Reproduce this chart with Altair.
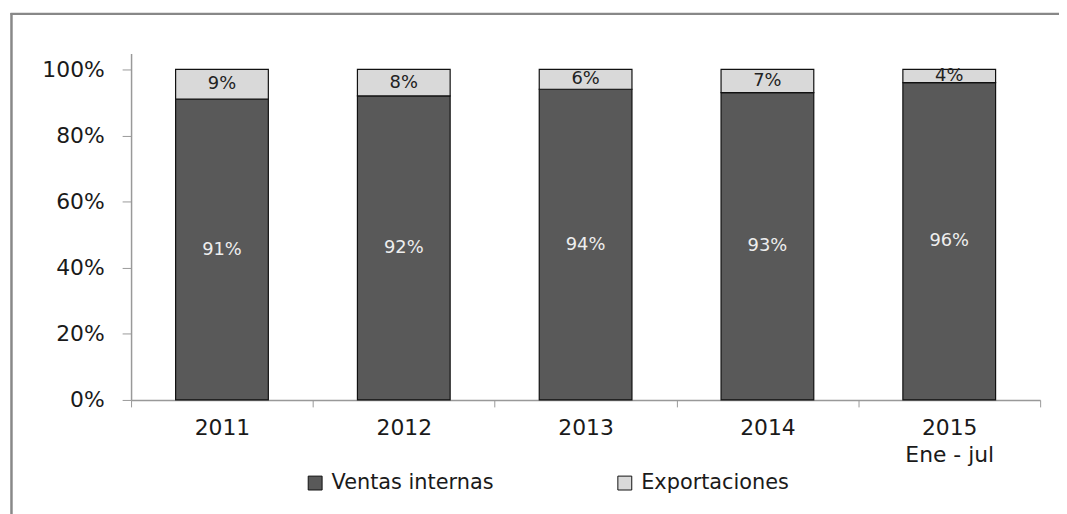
import altair as alt
import pandas as pd

years = ["2011", "2012", "2013", "2014", "2015\nEne - jul"]
ventas_internas = [91, 92, 94, 93, 96]
exportaciones = [9, 8, 6, 7, 4]
series_names = ["Ventas internas", "Exportaciones"]
series_colors = ["#595959", "#d9d9d9"]

rows = []
for i, y in enumerate(years):
    rows.append({"year": y, "series": series_names[0], "ord": 0, "value": ventas_internas[i] / 100})
    rows.append({"year": y, "series": series_names[1], "ord": 1, "value": exportaciones[i] / 100})
df = pd.DataFrame(rows)

FONT = "DejaVu Sans"

x_enc = alt.X(
    "year:N",
    sort=years,
    title=None,
    scale=alt.Scale(paddingInner=0, paddingOuter=0),
    axis=alt.Axis(
        labelAngle=0,
        labelExpr="split(datum.label, '\\n')",
        labelFont=FONT,
        labelFontSize=22,
        labelColor="#1a1a1a",
        labelLineHeight=27,
        labelPadding=11,
        tickBand="extent",
        tickSize=7,
        tickColor="#999999",
        domainColor="#999999",
        domainWidth=1.5,
        grid=False,
    ),
)

base = alt.Chart(df).transform_stack(
    stack="value", groupby=["year"], as_=["y0", "y1"], sort=[alt.SortField("ord", order="ascending")]
).transform_calculate(mid="(datum.y0 + datum.y1) / 2")

bars = base.mark_bar(stroke="#111111", strokeWidth=1.2, width={"band": 0.51}).encode(
    x=x_enc,
    y=alt.Y(
        "y0:Q",
        title=None,
        scale=alt.Scale(domain=[0, 1.048], nice=False),
        axis=alt.Axis(
            values=[0, 0.2, 0.4, 0.6, 0.8, 1.0],
            format=".0%",
            labelFont=FONT,
            labelFontSize=22,
            labelColor="#1a1a1a",
            labelPadding=18,
            tickSize=9,
            tickColor="#999999",
            domainColor="#999999",
            domainWidth=1.5,
            grid=False,
        ),
    ),
    y2="y1:Q",
    color=alt.Color(
        "series:N",
        scale=alt.Scale(domain=series_names, range=series_colors),
        legend=alt.Legend(
            title=None,
            orient="none",
            direction="horizontal",
            legendX=175,
            legendY=422,
            symbolType="square",
            symbolSize=196,
            symbolStrokeColor="#111111",
            symbolStrokeWidth=1,
            labelFont=FONT,
            labelFontSize=21,
            labelColor="#1a1a1a",
            labelOffset=6,
            labelLimit=400,
            columnPadding=121,
        ),
    ),
    order=alt.Order("ord:Q"),
)

labels = base.mark_text(font=FONT, fontSize=18, baseline="middle").encode(
    x=alt.X("year:N", sort=years),
    y=alt.Y("mid:Q"),
    text=alt.Text("value:Q", format=".0%"),
    color=alt.condition(
        alt.datum.series == "Ventas internas", alt.value("#eeeeee"), alt.value("#222222")
    ),
)

frame_left = alt.Chart(pd.DataFrame({"k": [0]})).mark_rule(color="#888888", strokeWidth=2.5).encode(
    x=alt.value(-120.5), y=alt.value(-41), y2=alt.value(470)
)
frame_top = alt.Chart(pd.DataFrame({"k": [0]})).mark_rule(color="#888888", strokeWidth=2.5).encode(
    x=alt.value(-121.5), x2=alt.value(940), y=alt.value(-40)
)

chart = (
    alt.layer(bars, labels, frame_left, frame_top)
    .properties(
        width=916,
        height=349,
        autosize=alt.AutoSizeParams(type="none"),
        padding={"left": 124, "top": 44, "right": 19, "bottom": 113},
        background="#ffffff",
    )
    .configure_view(stroke=None)
)

chart.save("out.html", embed_options={"renderer": "svg", "actions": False})
